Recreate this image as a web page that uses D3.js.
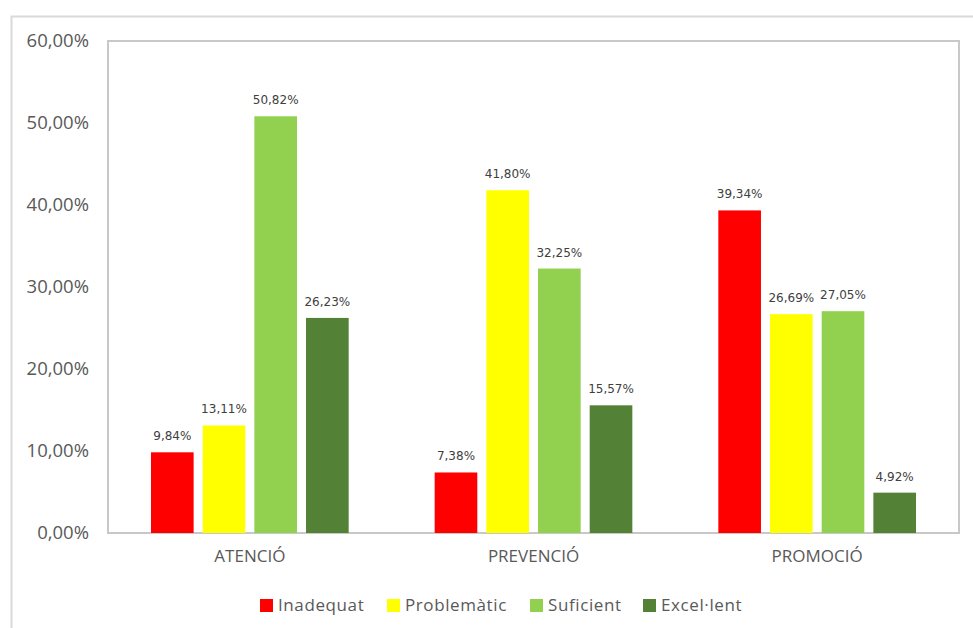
<!DOCTYPE html>
<html><head><meta charset="utf-8">
<script src="https://cdn.jsdelivr.net/npm/d3@7/dist/d3.min.js"></script>
<style>body{margin:0;background:#fff;} svg{display:block;}</style>
</head><body>
<svg id="c" width="973" height="628"></svg>
<script>
const categories = ["ATENCIÓ", "PREVENCIÓ", "PROMOCIÓ"];
const seriesNames = ["Inadequat", "Problemàtic", "Suficient", "Excel·lent"];
const seriesColors = ["#ff0000", "#ffff00", "#92d050", "#538135"];
const inadequat = [9.84, 7.38, 39.34];
const problematic = [13.11, 41.80, 26.69];
const suficient = [50.82, 32.25, 27.05];
const excellent = [26.23, 15.57, 4.92];
const yTicks = [0, 10, 20, 30, 40, 50, 60];

const seriesValues = [inadequat, problematic, suficient, excellent];
const fmt = v => v.toFixed(2).replace(".", ",") + "%";

const svg = d3.select("#c");
// outer chart border
svg.append("rect").attr("x", 11.5).attr("y", 16.5).attr("width", 1000).attr("height", 700)
  .attr("fill", "#fff").attr("stroke", "#d9d9d9").attr("stroke-width", 2);

const L = 108, R = 959, T = 41, B = 533;
const x0 = d3.scaleBand().domain(categories).range([L, R]).paddingInner(0).paddingOuter(0);
const x1 = d3.scaleBand().domain(seriesNames).range([43, x0.bandwidth() - 43]).paddingInner(0.175).paddingOuter(0);
const y = d3.scaleLinear().domain([0, 60]).range([B, T]);

// plot area border
svg.append("rect").attr("x", L).attr("y", T).attr("width", R - L).attr("height", B - T)
  .attr("fill", "none").attr("stroke", "#c8c8c8").attr("stroke-width", 2);

// y axis labels
const yAxis = d3.axisLeft(y).tickValues(yTicks).tickSize(0).tickPadding(0)
  .tickFormat(d => d.toFixed(2).replace(".", ",") + "%");
const yg = svg.append("g").attr("transform", `translate(89,0)`).call(yAxis);
yg.select(".domain").remove();
yg.selectAll("text").attr("font-family", "'Open Sans', sans-serif").attr("font-size", 18.5).attr("fill", "#595959");

// x axis labels
const xAxis = d3.axisBottom(x0).tickSize(0).tickPadding(0);
const xg = svg.append("g").attr("transform", `translate(0,${B + 17})`).call(xAxis);
xg.select(".domain").remove();
xg.selectAll("text").attr("font-family", "'Open Sans', sans-serif").attr("font-size", 17).attr("fill", "#595959");

// bars
const data = [];
categories.forEach((c, ci) => seriesNames.forEach((s, si) => data.push({c, s, si, v: seriesValues[si][ci]})));
const g = svg.append("g");
g.selectAll("rect.bar").data(data).join("rect").attr("class", "bar")
  .attr("x", d => x0(d.c) + x1(d.s)).attr("width", x1.bandwidth())
  .attr("y", d => y(d.v)).attr("height", d => y(0) - y(d.v))
  .attr("fill", d => seriesColors[d.si]);
g.selectAll("text.lbl").data(data).join("text").attr("class", "lbl")
  .attr("x", d => x0(d.c) + x1(d.s) + x1.bandwidth() / 2)
  .attr("y", d => y(d.v) - 12)
  .attr("text-anchor", "middle")
  .attr("font-family", "'DejaVu Sans', sans-serif").attr("font-size", 12).attr("fill", "#404040")
  .text(d => fmt(d.v));

// legend
const legendX = [260, 387, 530, 643];
const lg = svg.append("g");
seriesNames.forEach((s, i) => {
  lg.append("rect").attr("x", legendX[i]).attr("y", 599).attr("width", 13).attr("height", 13).attr("fill", seriesColors[i]);
  lg.append("text").attr("x", legendX[i] + 18).attr("y", 611).attr("letter-spacing", 0.6)
    .attr("font-family", "'Open Sans', sans-serif").attr("font-size", 17).attr("fill", "#595959").text(s);
});
</script>
</body></html>
